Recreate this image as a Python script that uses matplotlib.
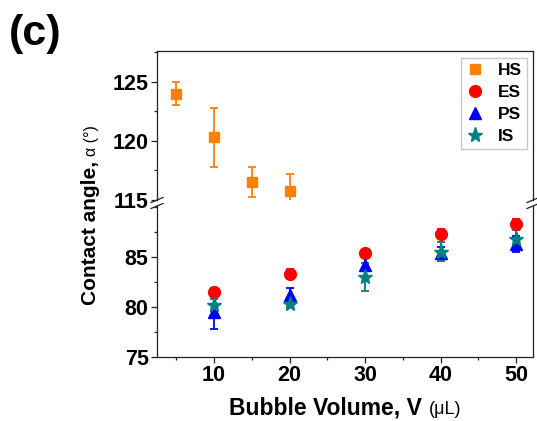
import matplotlib
matplotlib.use("Agg")
import matplotlib.pyplot as plt
from matplotlib.lines import Line2D
from matplotlib.ticker import MultipleLocator

plt.rcParams['font.family'] = ['Liberation Sans', 'DejaVu Sans']

# Hydrophobic surface (upper panel)
volume_hs = [5, 10, 15, 20]
angle_hs = [124.0, 120.3, 116.5, 115.8]
err_hs = [1.0, 2.5, 1.25, 1.4]

# Other surfaces (lower panel)
volume = [10, 20, 30, 40, 50]
angle_es = [81.5, 83.35, 85.4, 87.35, 88.35]
err_es = [0.4, 0.4, 0.3, 0.4, 0.5]
angle_ps = [79.5, 81.2, 84.15, 85.4, 86.3]
err_ps = [1.7, 0.7, 1.2, 0.6, 0.8]
angle_is = [80.2, 80.3, 83.0, 85.55, 86.8]
err_is = [0.6, 0.3, 1.4, 0.9, 0.9]

series_labels = ['HS', 'ES', 'PS', 'IS']
x_ticks = [10, 20, 30, 40, 50]
y_ticks_top = [115, 120, 125]
y_ticks_bot = [75, 80, 85]

c_hs, c_es, c_ps, c_is = '#FF8000', '#FF0000', '#0000FF', '#008080'

W, H = 537, 421
fig = plt.figure(figsize=(W / 100, H / 100), dpi=100)


def box(l, t, r, b):
    return [l / W, 1 - b / H, (r - l) / W, (b - t) / H]


ax_top = fig.add_axes(box(157, 51, 533, 200))
ax_bot = fig.add_axes(box(157, 206, 533, 357))

eb = dict(capsize=3, elinewidth=1.3, capthick=1.3, linestyle='none')
ax_top.errorbar(volume_hs, angle_hs, yerr=err_hs, marker='s', ms=7.5,
                color=c_hs, mec=c_hs, **eb)
ax_bot.errorbar(volume, angle_es, yerr=err_es, marker='o', ms=8.5,
                color=c_es, mec=c_es, **eb)
ax_bot.errorbar(volume, angle_ps, yerr=err_ps, marker='^', ms=9,
                color=c_ps, mec=c_ps, **eb)
ax_bot.errorbar(volume, angle_is, yerr=err_is, marker='*', ms=11,
                color=c_is, mec=c_is, **eb)

for ax in (ax_top, ax_bot):
    ax.set_xlim(2.45, 52.25)
    for s in ax.spines.values():
        s.set_linewidth(0.9)
        s.set_color('#222222')
    ax.tick_params(axis='both', which='major', direction='out', length=4,
                   width=0.9, color='#222222', labelsize=15.5, pad=2)
    ax.tick_params(axis='both', which='minor', direction='out', length=2.5,
                   width=0.9, color='#222222')
    ax.tick_params(right=False, top=False, which='both')

ax_top.set_ylim(115, 127.6)
ax_top.set_yticks(y_ticks_top)
ax_top.yaxis.set_minor_locator(MultipleLocator(2.5))
ax_top.spines['bottom'].set_visible(False)
ax_top.tick_params(axis='x', which='both', bottom=False, labelbottom=False)

ax_bot.set_ylim(75, 90.1)
ax_bot.set_yticks(y_ticks_bot)
ax_bot.yaxis.set_minor_locator(MultipleLocator(2.5))
ax_bot.set_xticks(x_ticks)
ax_bot.xaxis.set_minor_locator(MultipleLocator(5))
ax_bot.spines['top'].set_visible(False)

for ax in (ax_top, ax_bot):
    for lab in ax.get_xticklabels() + ax.get_yticklabels():
        lab.set_fontweight('bold')

# Axis break marks on both vertical spines
for xs in (157, 533):
    for yb in (200, 206):
        fig.add_artist(Line2D([(xs - 6) / W, (xs + 6) / W],
                              [1 - (yb + 2.5) / H, 1 - (yb - 2.5) / H],
                              transform=fig.transFigure, color='#222222',
                              lw=0.9))

# Legend
handles = [
    Line2D([], [], ls='none', marker='s', ms=7.5, color=c_hs),
    Line2D([], [], ls='none', marker='o', ms=8.5, color=c_es),
    Line2D([], [], ls='none', marker='^', ms=9, color=c_ps),
    Line2D([], [], ls='none', marker='*', ms=11, color=c_is),
]
leg = fig.legend(handles, series_labels, loc='upper right',
                 bbox_to_anchor=(527 / W, 1 - 58 / H),
                 bbox_transform=fig.transFigure, borderaxespad=0,
                 prop={'weight': 'bold', 'size': 12.5}, frameon=True,
                 fancybox=False, edgecolor='#BBBBBB', handlelength=1.0,
                 handletextpad=0.8, labelspacing=0.38, borderpad=0.3)
leg.get_frame().set_linewidth(1.0)

# Axis titles with a lighter unit part
fig.canvas.draw()
r = fig.canvas.get_renderer()


def px(x, y):
    return x / W, 1 - y / H


# y title: baseline vertical at x=96, centred near y=215
ty1 = fig.text(0, 0, 'Contact angle, ', rotation=90, rotation_mode='anchor',
               ha='left', va='baseline', fontsize=15, fontweight='bold')
ty2 = fig.text(0, 0, 'α (°)', rotation=90, rotation_mode='anchor',
               ha='left', va='baseline', fontsize=11.5)
h1 = ty1.get_window_extent(r).height
h2 = ty2.get_window_extent(r).height
y_start = 215 + (h1 + h2) / 2
ty1.set_position(px(96, y_start))
ty2.set_position(px(96, y_start - h1))

# x title: baseline at y=414, centred at x=345
tx1 = fig.text(0, 0, 'Bubble Volume, V ', ha='left', va='baseline',
               fontsize=16.5, fontweight='bold')
tx2 = fig.text(0, 0, '(μL)', ha='left', va='baseline', fontsize=13)
w1 = tx1.get_window_extent(r).width
w2 = tx2.get_window_extent(r).width
x_start = 345 - (w1 + w2) / 2
tx1.set_position(px(x_start, 414))
tx2.set_position(px(x_start + w1, 414))

# Panel letter
fig.text(*px(9, 45), '(c)', fontsize=31, fontweight='bold',
         ha='left', va='baseline')

fig.savefig('out.png', dpi=100)
